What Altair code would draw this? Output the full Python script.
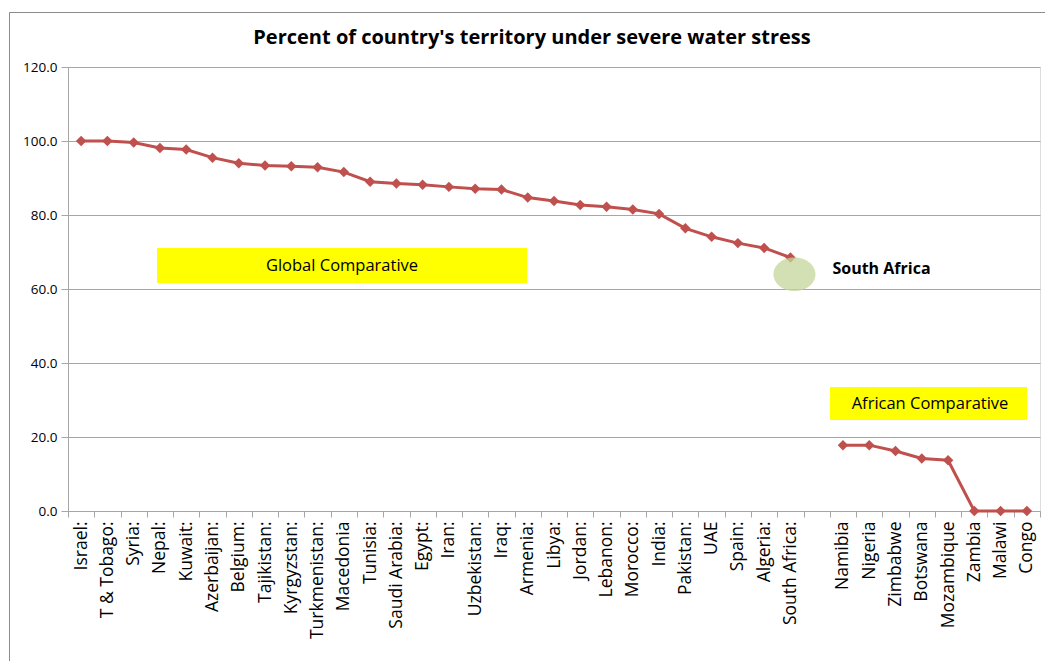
import altair as alt
import pandas as pd

# Countries and share of territory under severe water stress (%)
global_countries = [
    "Israel:", "T & Tobago:", "Syria:", "Nepal:", "Kuwait:", "Azerbaijan:",
    "Belgium:", "Tajikistan:", "Kyrgyzstan:", "Turkmenistan:", "Macedonia",
    "Tunisia:", "Saudi Arabia:", "Egypt:", "Iran:", "Uzbekistan:", "Iraq:",
    "Armenia:", "Libya:", "Jordan:", "Lebanon:", "Morocco:", "India:",
    "Pakistan:", "UAE", "Spain:", "Algeria:", "South Africa:",
]
global_stress = [
    100.0, 100.0, 99.6, 98.1, 97.7, 95.5,
    94.0, 93.4, 93.2, 92.9, 91.6,
    89.0, 88.5, 88.2, 87.6, 87.1, 86.9,
    84.7, 83.8, 82.7, 82.2, 81.5, 80.3,
    76.4, 74.1, 72.4, 71.1, 68.5,
]
african_countries = [
    "Namibia", "Nigeria", "Zimbabwe", "Botswana", "Mozambique",
    "Zambia", "Malawi", "Congo",
]
african_stress = [17.8, 17.8, 16.2, 14.2, 13.7, 0.0, 0.0, 0.0]

gap = " "
category_order = global_countries + [gap] + african_countries
y_ticks = [0, 20, 40, 60, 80, 100, 120]

df = pd.concat([
    pd.DataFrame({"country": global_countries, "stress": global_stress, "group": "Global"}),
    pd.DataFrame({"country": african_countries, "stress": african_stress, "group": "Africa"}),
], ignore_index=True)

W, H = 972, 444
PAD_L, PAD_T = 68, 67
RED = "#c0504d"
GRID = "#a6a6a6"
FONT = "Open Sans"

x_enc = alt.X(
    "country:N",
    sort=category_order,
    scale=alt.Scale(type="band", domain=category_order, paddingInner=0, paddingOuter=0),
    axis=alt.Axis(
        title=None, labelAngle=270, labelAlign="right", labelBaseline="middle",
        labelFont=FONT, labelFontSize=17.5, labelColor="#000000",
        labelPadding=4, tickBand="extent", tickSize=6, tickColor=GRID,
        domainColor=GRID, labelOverlap=False, grid=False,
    ),
)
y_enc = alt.Y(
    "stress:Q",
    scale=alt.Scale(domain=[0, 120], nice=False),
    axis=alt.Axis(
        title=None, values=y_ticks, format=".1f", labelFont=FONT,
        labelFontSize=13.5, labelColor="#000000", tickSize=7, tickColor=GRID,
        domainColor=GRID, gridColor=GRID, gridWidth=1, labelPadding=4,
    ),
)

line = alt.Chart(df).mark_line(color=RED, strokeWidth=3).encode(
    x=x_enc, y=y_enc, detail="group:N"
)
points = alt.Chart(df).mark_point(
    shape="diamond", filled=True, color=RED, size=110, opacity=1
).encode(x=x_enc, y=y_enc)

# Highlight around South Africa
highlight_df = pd.DataFrame({"country": ["South Africa:"], "stress": [64.0]})
highlight = alt.Chart(highlight_df).mark_point(
    shape="M -1 0 A 1 0.8 0 1 1 1 0 A 1 0.8 0 1 1 -1 0 Z",
    filled=True, color="#c3d69b", opacity=0.75, size=1764, xOffset=4,
).encode(x=alt.X("country:N", sort=category_order), y="stress:Q")

sa_label = alt.Chart(highlight_df).mark_text(
    text="South Africa", font=FONT, fontWeight="bold", fontSize=16,
    align="left", baseline="middle", color="#000000", dx=42, dy=-5,
).encode(x=alt.X("country:N", sort=category_order), y="stress:Q")

one = pd.DataFrame({"k": [0]})

# Chart title
title = alt.Chart(one).mark_text(
    text="Percent of country's territory under severe water stress",
    font=FONT, fontSize=20, fontWeight="bold", color="#000000",
    align="center", baseline="middle",
).encode(x=alt.value(532 - PAD_L), y=alt.value(38 - PAD_T))

# Yellow call-out boxes
box_global = alt.Chart(one).mark_rect(color="#ffff00").encode(
    x=alt.value(157 - PAD_L), x2=alt.value(527 - PAD_L),
    y=alt.value(248 - PAD_T), y2=alt.value(283 - PAD_T),
)
text_global = alt.Chart(one).mark_text(
    text="Global Comparative", font=FONT, fontSize=16.5, color="#000000",
    align="center", baseline="middle",
).encode(x=alt.value(342 - PAD_L), y=alt.value(266 - PAD_T))

box_africa = alt.Chart(one).mark_rect(color="#ffff00").encode(
    x=alt.value(830 - PAD_L), x2=alt.value(1027 - PAD_L),
    y=alt.value(387 - PAD_T), y2=alt.value(420 - PAD_T),
)
text_africa = alt.Chart(one).mark_text(
    text="African Comparative", font=FONT, fontSize=16.5, color="#000000",
    align="center", baseline="middle",
).encode(x=alt.value(930 - PAD_L), y=alt.value(404 - PAD_T))

# Outer chart frame (left and top edges)
frame_left = alt.Chart(one).mark_rule(color="#8c8c8c", strokeWidth=1).encode(
    x=alt.value(9.5 - PAD_L), y=alt.value(12.5 - PAD_T), y2=alt.value(700 - PAD_T)
)
frame_top = alt.Chart(one).mark_rule(color="#8c8c8c", strokeWidth=1).encode(
    x=alt.value(9.5 - PAD_L), x2=alt.value(1100 - PAD_L), y=alt.value(12.5 - PAD_T)
)

chart = alt.layer(
    frame_left, frame_top, title, box_global, text_global, box_africa, text_africa,
    line, points, highlight, sa_label,
).properties(
    width=W, height=H,
    autosize=alt.AutoSizeParams(type="none"),
    padding={"left": PAD_L, "top": PAD_T, "right": 5, "bottom": 150},
).configure_view(stroke=None).configure(background="#ffffff")

chart.save("out.html", embed_options={"renderer": "svg", "actions": False})
